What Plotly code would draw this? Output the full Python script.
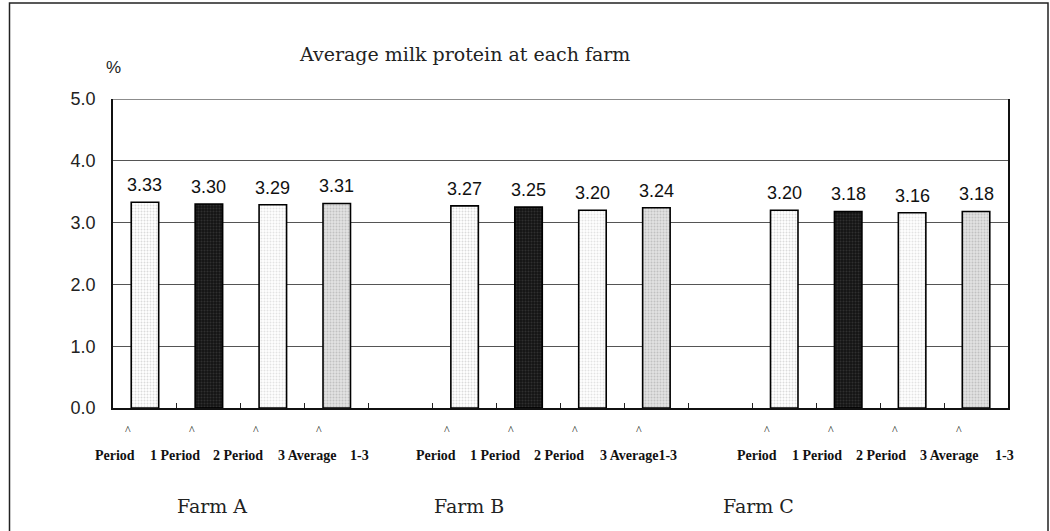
import plotly.graph_objects as go

# Milk protein (%) per farm and period
farms = ["Farm A", "Farm B", "Farm C"]
periods = ["Period 1", "Period 2", "Period 3", "Average 1-3"]
farm_a = [3.33, 3.30, 3.29, 3.31]
farm_b = [3.27, 3.25, 3.20, 3.24]
farm_c = [3.20, 3.18, 3.16, 3.18]
y_ticks = [0.0, 1.0, 2.0, 3.0, 4.0, 5.0]

# Category label rows printed under each farm group
label_rows = [
    ["Period", "1 Period", "2 Period", "3 Average", "1-3"],
    ["Period", "1 Period", "2 Period", "3 Average1-3"],
    ["Period", "1 Period", "2 Period", "3 Average", "1-3"],
]
label_offsets = [
    [0.03, 0.97, 1.96, 3.03, 3.86],
    [0.06, 0.98, 1.98, 3.22],
    [0.08, 1.02, 2.02, 3.08, 3.94],
]

values = [farm_a, farm_b, farm_c]
group_start = [0, 5, 10]          # slot index where each farm's group starts
n_slots = 14

# fill styles for the four periods
fills = [
    dict(bg="#ffffff", fg="#b8b8b8"),
    dict(bg="#141414", fg="#4a4a4a"),
    dict(bg="#ffffff", fg="#c8c8c8"),
    dict(bg="#e2e2e2", fg="#a0a0a0"),
]

fig = go.Figure()
annotations = []

for p, period in enumerate(periods):
    xs = [group_start[f] + p + 0.5 for f in range(len(farms))]
    ys = [values[f][p] for f in range(len(farms))]
    fig.add_trace(go.Bar(
        x=xs, y=ys, width=0.43, name=period,
        marker=dict(
            color=fills[p]["bg"],
            line=dict(color="#000000", width=1.6),
            pattern=dict(shape=".", fgcolor=fills[p]["fg"],
                         bgcolor=fills[p]["bg"], size=3, solidity=0.35),
        ),
        showlegend=False,
        hoverinfo="skip",
    ))
    for x, y in zip(xs, ys):
        annotations.append(dict(
            x=x, y=y, xref="x", yref="y", text=f"{y:.2f}",
            showarrow=False, yanchor="bottom", yshift=5,
            font=dict(family="Liberation Sans, Arial", size=18, color="#111"),
        ))
        # small caret under each bar
        annotations.append(dict(
            x=x - 0.27, y=-0.07, xref="x", yref="paper", text="^",
            showarrow=False, yanchor="middle",
            font=dict(family="Liberation Serif", size=12, color="#222"),
        ))

for f, farm in enumerate(farms):
    for word, off in zip(label_rows[f], label_offsets[f]):
        annotations.append(dict(
            x=group_start[f] + off, y=-0.155, xref="x", yref="paper",
            text=f"<b>{word}</b>", showarrow=False, yanchor="middle",
            font=dict(family="Liberation Serif", size=14, color="#111"),
        ))

farm_label_x = [1.55, 5.57, 10.1]
for farm, fx in zip(farms, farm_label_x):
    annotations.append(dict(
        x=fx, y=-0.317, xref="x", yref="paper", text=farm,
        showarrow=False, yanchor="middle",
        font=dict(family="DejaVu Serif", size=19, color="#222"),
    ))

annotations.append(dict(
    x=(464 - 113) / 895, y=(408 - 54) / 309, xref="paper", yref="paper",
    text="Average milk protein at each farm", showarrow=False,
    yanchor="middle", font=dict(family="DejaVu Serif", size=19, color="#222"),
))
annotations.append(dict(
    x=(104 - 113) / 895, y=(408 - 68) / 309, xref="paper", yref="paper",
    text="%", showarrow=False, yanchor="middle",
    font=dict(family="Liberation Sans, Arial", size=17, color="#222"),
))

shapes = [
    # outer frame
    dict(type="rect", xref="paper", yref="paper",
         x0=(9.5 - 113) / 895, x1=(1048 - 113) / 895,
         y0=-0.5, y1=(408 - 3) / 309,
         line=dict(color="#222", width=1.5), layer="below"),
    # top edge of plot area
    dict(type="line", xref="paper", yref="y", x0=0, x1=1, y0=5, y1=5,
         line=dict(color="#666", width=1.3)),
]

fig.update_layout(
    width=1050, height=531,
    margin=dict(l=113, r=42, t=99, b=123),
    paper_bgcolor="white", plot_bgcolor="white",
    barmode="overlay",
    annotations=annotations,
    shapes=shapes,
    xaxis=dict(
        range=[0, n_slots], tickmode="array",
        tickvals=list(range(n_slots + 1)), showticklabels=False,
        ticks="inside", ticklen=5, tickcolor="#222", tickwidth=1,
        showline=True, linecolor="#111", linewidth=2,
        showgrid=False, zeroline=False,
    ),
    yaxis=dict(
        range=[0, 5], tickmode="array", tickvals=y_ticks,
        ticktext=[f"{v:.1f}" for v in y_ticks],
        tickfont=dict(family="Liberation Sans, Arial", size=18, color="#222"),
        ticks="", ticklabelstandoff=12,
        showline=True, linecolor="#111", linewidth=1.5, mirror=True,
        showgrid=True, gridcolor="#555", gridwidth=1,
        zeroline=False,
    ),
)

fig.write_html("out.html")
